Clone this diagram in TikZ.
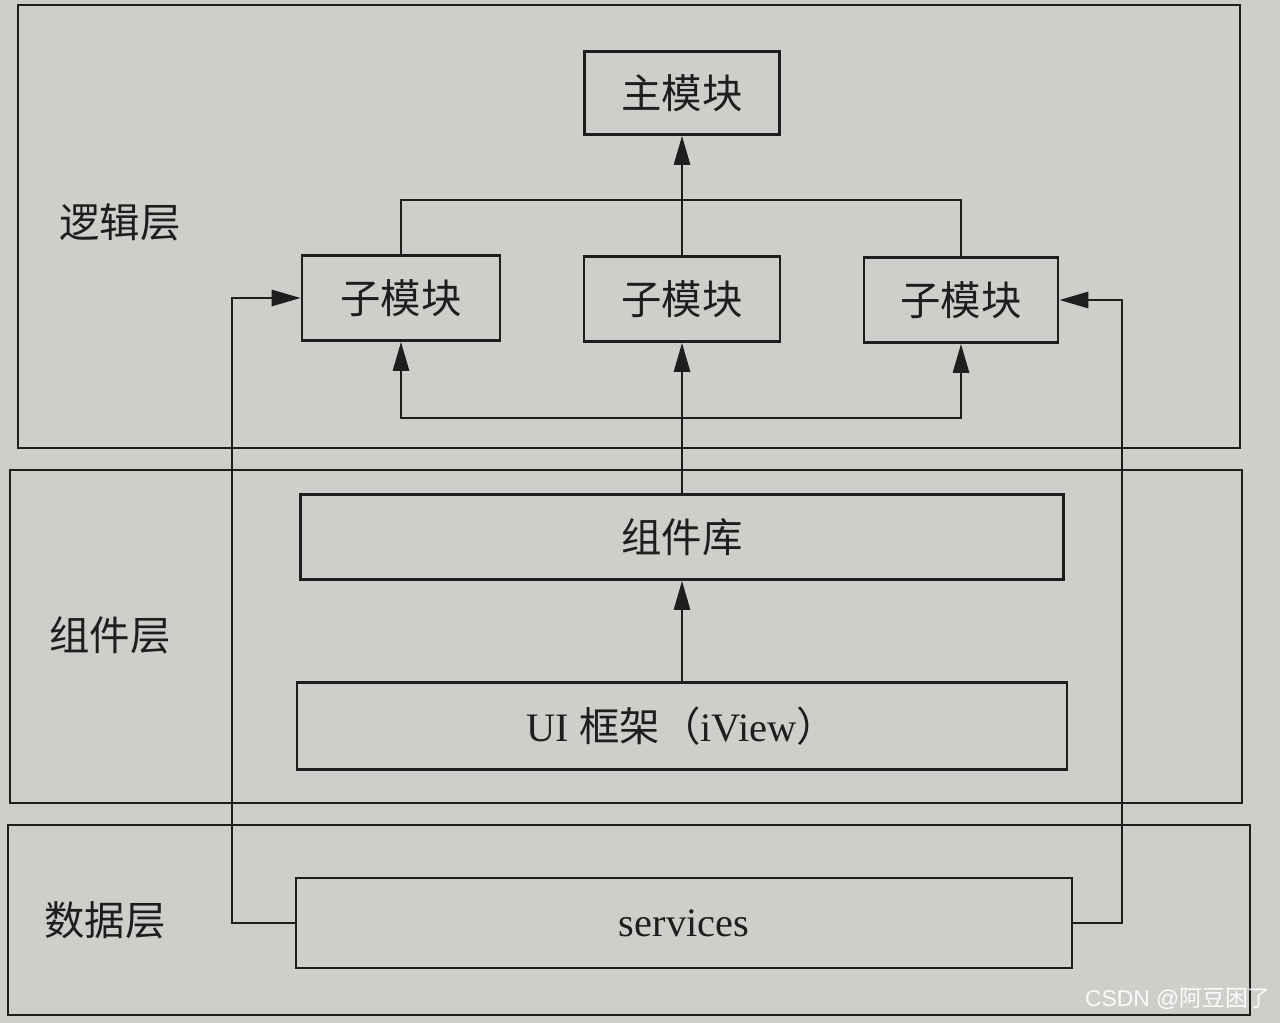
\documentclass[tikz,border=0pt]{standalone}
\usepackage{fontspec}
\setmainfont{Liberation Serif}
\newfontfamily\cjk{Noto Sans CJK SC}
\newfontfamily\wmfont{Liberation Sans}
\usetikzlibrary{arrows.meta, positioning, calc}
\definecolor{paper}{RGB}{206,206,203}
\definecolor{ink}{RGB}{30,30,30}

\begin{document}
\begin{tikzpicture}[
      x=0.02cm, y=-0.02cm,
      box/.style={draw=ink, line width=1.5pt, inner sep=0pt, font=\fontsize{23}{28}\selectfont\cjk, text=ink},
      layer/.style={draw=ink, line width=1.5pt},
      lbl/.style={font=\fontsize{23}{28}\selectfont\cjk, text=ink},
      lnk/.style={ink, line width=1.5pt},
      arr/.style={lnk, -{Triangle[length=0.58cm, width=0.32cm]}}
    ]
      \fill[paper] (0,0) rectangle (1280,1023);
      \useasboundingbox (0,0) rectangle (1280,1023);

      % Layers
      \draw[layer] (18,5) rectangle (1240,448);
      \draw[layer] (10,470) rectangle (1242,803);
      \draw[layer] (8,825) rectangle (1250,1015);
      \node[lbl] (logic) at (120,222) {逻辑层};
      \node[lbl] (comp) at (110,635) {组件层};
      \node[lbl] (data) at (105,920) {数据层};

      % Logic layer
      \node[box, minimum width=3.9cm, minimum height=1.66cm] (main) at (682,93) {主模块};
      \node[box, minimum width=3.96cm, minimum height=1.7cm] (subL) at (401,298) {子模块};
      \node[box, minimum width=3.92cm, minimum height=1.7cm] (subM) at (682,299) {子模块};
      \node[box, minimum width=3.88cm, minimum height=1.7cm] (subR) at (961,300) {子模块};
      \coordinate (join) at (682,200);
      \coordinate (fork) at (682,418);
      \draw[lnk] (subL.north) |- (join) -| (subR.north);
      \draw[arr] (subM.north) -- (main.south);

      % Component layer
      \node[box, minimum width=15.26cm, minimum height=1.7cm] (lib) at (682,537) {组件库};
      \node[box, minimum width=15.4cm, minimum height=1.74cm] (ui) at (682,726)
        {\rmfamily UI \cjk 框架（\rmfamily iView\cjk ）};
      \draw[arr] (ui.north) -- (lib.south);
      \draw[arr] (lib.north) -- (subM.south);
      \draw[arr] (fork) -| (subL.south);
      \draw[arr] (fork) -| (subR.south);

      % Data layer
      \node[box, minimum width=15.52cm, minimum height=1.8cm, font=\fontsize{23}{28}\selectfont\rmfamily] (svc) at (684,923) {services};
      \coordinate (lx) at (232,0);
      \coordinate (rx) at (1122,0);
      \draw[arr] (svc.west) -- (svc.west -| lx) |- (subL.west);
      \draw[arr] (svc.east) -- (svc.east -| rx) |- (subR.east);

      \node[font=\fontsize{13}{15}\selectfont\wmfont, text=white!92!paper] (wm) at (1178,999)
        {CSDN @\cjk 阿豆困了};
    \end{tikzpicture}
\end{document}
